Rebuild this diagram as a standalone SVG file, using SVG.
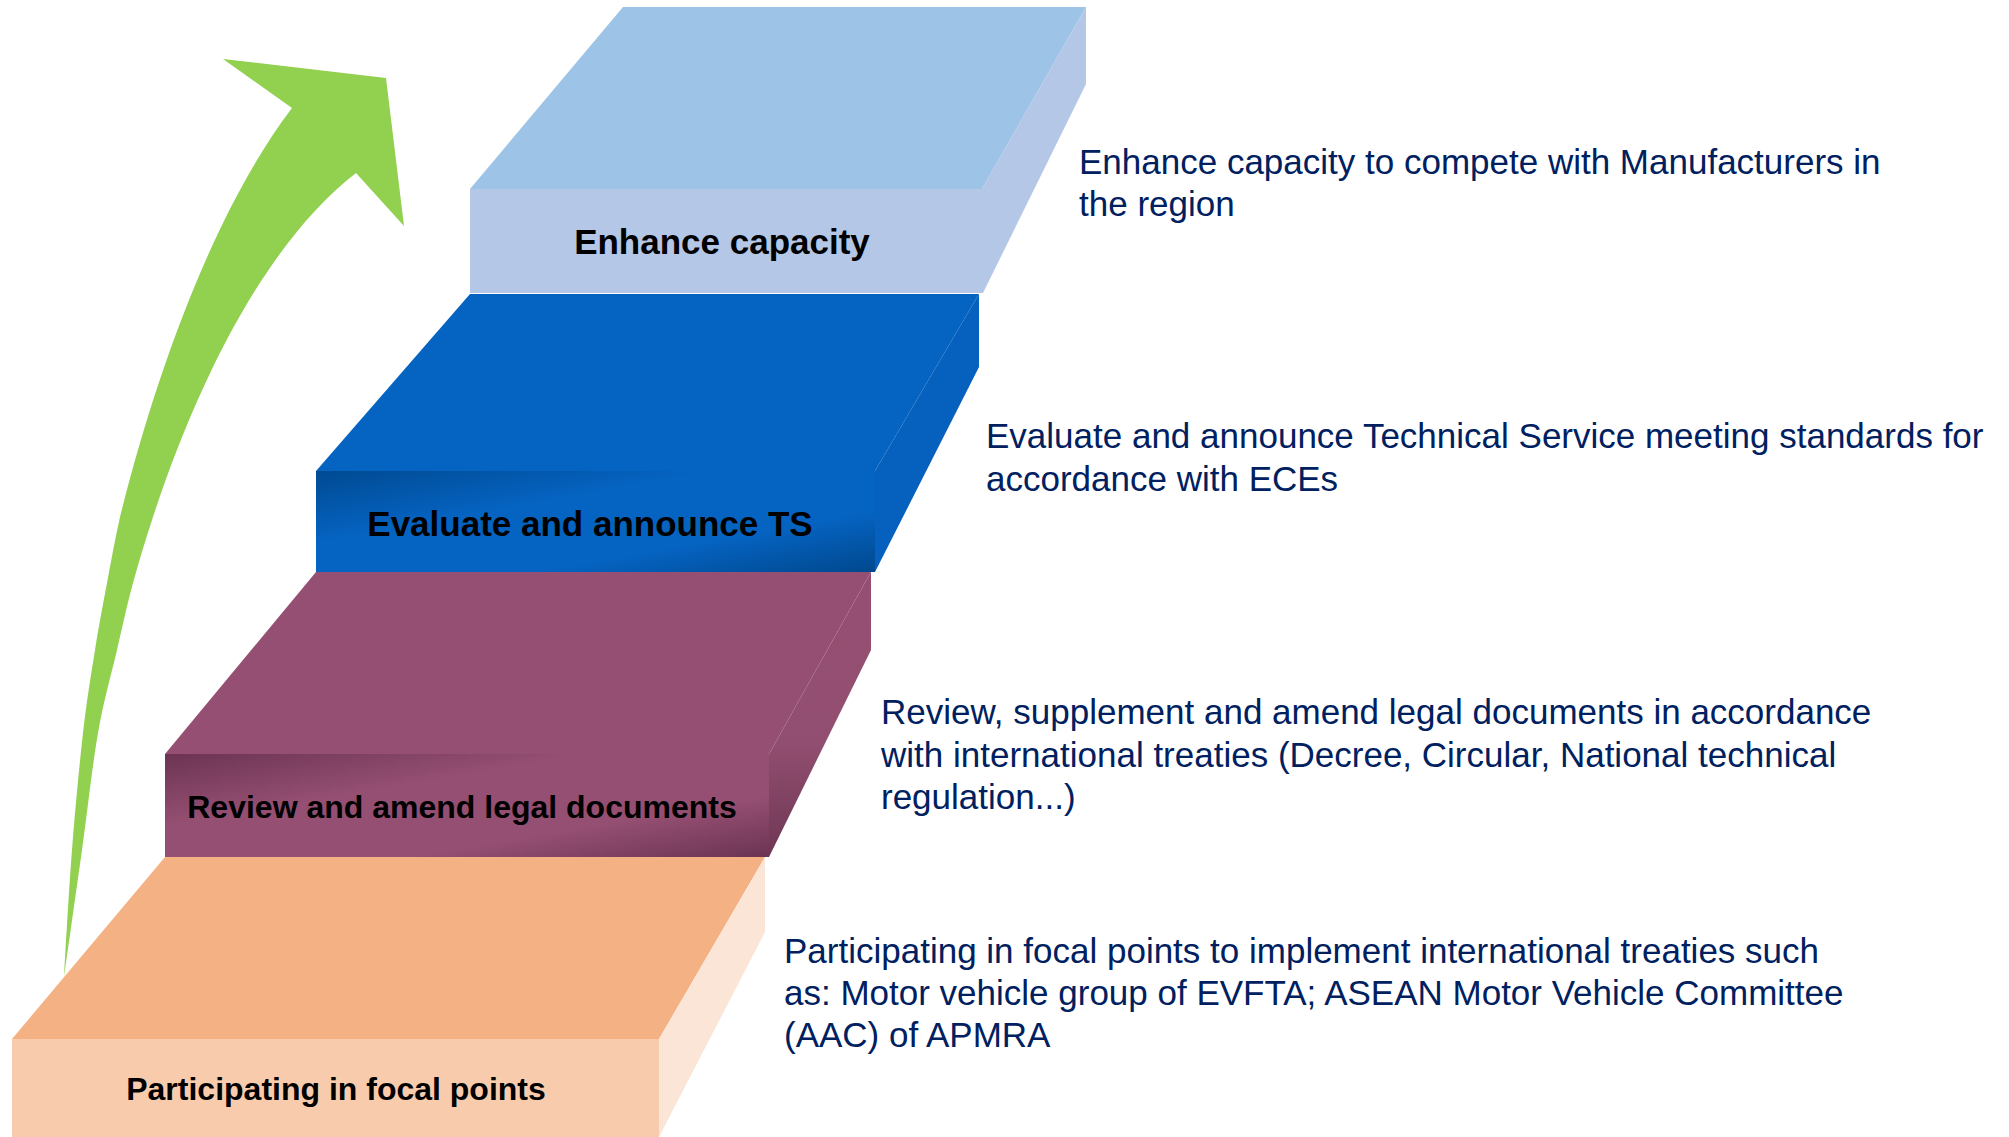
<svg xmlns="http://www.w3.org/2000/svg" width="2009" height="1137" viewBox="0 0 2009 1137">
<defs>
<linearGradient id="gBlueFront" x1="0" y1="0" x2="1" y2="1">
<stop offset="0" stop-color="#004A92"/>
<stop offset="0.35" stop-color="#0563C1"/>
<stop offset="0.7" stop-color="#0563C1"/>
<stop offset="1" stop-color="#00488E"/>
</linearGradient>
<linearGradient id="gPurpleFront" x1="0" y1="0" x2="1" y2="1">
<stop offset="0" stop-color="#6C3452"/>
<stop offset="0.35" stop-color="#954F72"/>
<stop offset="0.7" stop-color="#954F72"/>
<stop offset="1" stop-color="#6C3452"/>
</linearGradient>
<linearGradient id="gPurpleSide" x1="0" y1="0" x2="0" y2="1">
<stop offset="0" stop-color="#954F72"/>
<stop offset="0.6" stop-color="#924E70"/>
<stop offset="1" stop-color="#6E3754"/>
</linearGradient>
<style>
.lbl{font-family:"Liberation Sans",Arial,sans-serif;font-weight:bold;fill:#000000;text-anchor:middle}
.desc{font-family:"Liberation Sans",Arial,sans-serif;font-size:35px;fill:#002060}
</style>
</defs>
<rect width="2009" height="1137" fill="#FFFFFF"/>

<g id="connectors">
<path id="progress-arrow" fill="#92D050" d="M64,977 C65.3,955.8 68.8,890.7 72,850 C75.2,809.3 79.2,766.3 83,733 C86.8,699.7 91,675 95,650 C99,625 102.8,605.2 107,583 C111.2,560.8 115,539.2 120,517 C157.5,367 216,208 292,108 L223,59 L386,78 L404,226 L356,173 C272,238 202.5,367 153,517 C145.8,539.2 139,560.8 133,583 C127,605.2 122.8,625 117,650 C111.2,675 103.8,699.7 98,733 C92.2,766.3 87.7,809.3 82,850 C76.3,890.7 67,955.8 64,977 Z"/>
</g>

<g id="step-participating">
<polygon points="165,857 765,857 659,1039 12,1039" fill="#F4B183"/>
<rect x="12" y="1039" width="647" height="98" fill="#F8CBAD"/>
<polygon points="765,857 765,932 659,1137 659,1039" fill="#FBE5D6"/>
<text class="lbl" x="336" y="1100" font-size="32">Participating in focal points</text>
</g>

<g id="step-review">
<polygon points="316,572 871,572 769,754 165,754" fill="#954F72"/>
<rect x="165" y="754" width="604" height="103" fill="url(#gPurpleFront)"/>
<polygon points="871,572 871,650 769,857 769,754" fill="url(#gPurpleSide)"/>
<text class="lbl" x="462" y="818" font-size="32">Review and amend legal documents</text>
</g>

<g id="step-evaluate">
<polygon points="470,294 979,294 875,471 316,471" fill="#0563C1"/>
<rect x="316" y="471" width="559" height="101" fill="url(#gBlueFront)"/>
<polygon points="979,294 979,367 875,572 875,471" fill="#0560BE"/>
<text class="lbl" x="590" y="536" font-size="35">Evaluate and announce TS</text>
</g>

<g id="step-enhance">
<polygon points="623,7 1086,7 982,189 470,189" fill="#9DC3E6"/>
<rect x="470" y="189" width="513" height="104" fill="#B4C7E7"/>
<polygon points="1086,7 1086,84 983,293 982,189" fill="#B4C7E7"/>
<text class="lbl" x="722" y="254" font-size="35">Enhance capacity</text>
</g>

<g id="desc-enhance">
<text class="desc" x="1079" y="174">Enhance capacity to compete with Manufacturers in</text>
<text class="desc" x="1079" y="216">the region</text>
</g>
<g id="desc-evaluate">
<text class="desc" x="986" y="448">Evaluate and announce Technical Service meeting standards for</text>
<text class="desc" x="986" y="491">accordance with ECEs</text>
</g>
<g id="desc-review">
<text class="desc" x="881" y="724">Review, supplement and amend legal documents in accordance</text>
<text class="desc" x="881" y="767">with international treaties (Decree, Circular, National technical</text>
<text class="desc" x="881" y="809">regulation...)</text>
</g>
<g id="desc-participating">
<text class="desc" x="784" y="963">Participating in focal points to implement international treaties such</text>
<text class="desc" x="784" y="1005">as: Motor vehicle group of EVFTA; ASEAN Motor Vehicle Committee</text>
<text class="desc" x="784" y="1047">(AAC) of APMRA</text>
</g>
</svg>
